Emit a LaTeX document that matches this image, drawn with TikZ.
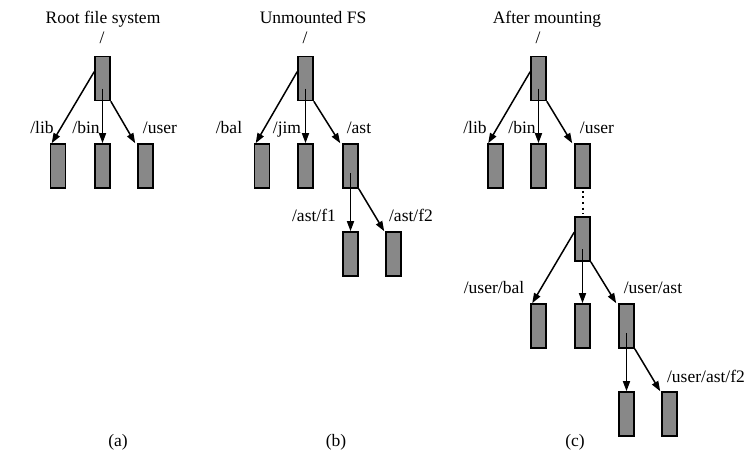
\documentclass[tikz,border=0pt]{standalone}
\usepackage{fontspec}
\setmainfont{Liberation Serif}
\usetikzlibrary{arrows.meta,calc}
\definecolor{boxgray}{RGB}{136,136,136}
\begin{document}
\begin{tikzpicture}[x=1pt,y=-1pt,
  fbox/.style={draw, line width=1.6pt, fill=boxgray, minimum width=15pt, minimum height=44pt, inner sep=0pt},
  lbl/.style={font=\fontsize{17.5}{19}\selectfont, anchor=base, inner sep=0pt},
  conn/.style={line width=1.5pt, -{Triangle[length=10pt,width=7pt]}},
  dotline/.style={line width=2pt, dash pattern=on 2pt off 3.6pt}]
\useasboundingbox (0,0) rectangle (748,456);

% ---------- (a) ----------
\node[lbl] (ta) at (103,23) {Root file system};
\node[lbl] (sa) at (102,43) {/};
\node[fbox] (ar) at (102.5,78.5) {};
\node[fbox] (al) at (58,166) {};
\node[fbox] (ab) at (102.5,166) {};
\node[fbox] (au) at (145.5,166) {};
\node[lbl] (lal) at (42,133) {/lib};
\node[lbl] (lab) at (86,133) {/bin};
\node[lbl] (lau) at (160,133) {/user};
\draw[conn] ($(ar.north west)+(0,16)$) -- ($(al.north west)+(2,0)$);
\draw[conn] ($(ar.center)+(0,10)$) -- (ab.north);
\draw[conn] (ar.south east) -- ($(au.north west)+(-2,0)$);
\node[lbl] (capa) at (118,446) {(a)};

% ---------- (b) ----------
\node[lbl] (tb) at (313,23) {Unmounted FS};
\node[lbl] (sb) at (305,43) {/};
\node[fbox] (br) at (305.5,78.5) {};
\node[fbox] (bb) at (262,166) {};
\node[fbox] (bj) at (305.5,166) {};
\node[fbox] (ba) at (350.5,166) {};
\node[fbox] (bf1) at (350.5,254) {};
\node[fbox] (bf2) at (393.5,254) {};
\node[lbl] (lbb) at (229,133) {/bal};
\node[lbl] (lbj) at (287,133) {/jim};
\node[lbl] (lba) at (359,133) {/ast};
\node[lbl] (lbf1) at (314,221) {/ast/f1};
\node[lbl] (lbf2) at (411,221) {/ast/f2};
\draw[conn] ($(br.north west)+(0,16)$) -- ($(bb.north west)+(2,0)$);
\draw[conn] ($(br.center)+(0,10)$) -- (bj.north);
\draw[conn] (br.south east) -- ($(ba.north west)+(-2,0)$);
\draw[conn] ($(ba.center)+(0,7)$) -- (bf1.north);
\draw[conn] (ba.south east) -- ($(bf2.north west)+(-1,0)$);
\node[lbl] (capb) at (336,446) {(b)};

% ---------- (c) ----------
\node[lbl] (tc) at (547,23) {After mounting};
\node[lbl] (sc) at (538,43) {/};
\node[fbox] (cr) at (538.5,78.5) {};
\node[fbox] (cl) at (495.5,166) {};
\node[fbox] (cb) at (538.5,166) {};
\node[fbox] (cu) at (582.5,166) {};
\node[fbox] (cm) at (582.5,239) {};
\node[fbox] (cmb) at (538.5,326) {};
\node[fbox] (cmj) at (582.5,326) {};
\node[fbox] (cma) at (626.5,326) {};
\node[fbox] (cf1) at (626.5,414) {};
\node[fbox] (cf2) at (669.5,414) {};
\node[lbl] (lcl) at (475,133) {/lib};
\node[lbl] (lcb) at (522,133) {/bin};
\node[lbl] (lcu) at (597,133) {/user};
\node[lbl] (lcmb) at (494,293) {/user/bal};
\node[lbl] (lcma) at (653,293) {/user/ast};
\node[lbl] (lcf2) at (706,382) {/user/ast/f2};
\draw[conn] ($(cr.north west)+(0,16)$) -- ($(cl.north west)+(1,0)$);
\draw[conn] ($(cr.center)+(0,10)$) -- (cb.north);
\draw[conn] (cr.south east) -- ($(cu.north west)+(-2,0)$);
\draw[dotline] ($(cu.south)+(0,2)$) -- ($(cm.north)+(0,-2)$);
\draw[conn] ($(cm.north west)+(0,16)$) -- ($(cmb.north west)+(2,0)$);
\draw[conn] ($(cm.center)+(0,10)$) -- (cmj.north);
\draw[conn] (cm.south east) -- ($(cma.north west)+(-2,0)$);
\draw[conn] ($(cma.center)+(0,7)$) -- (cf1.north);
\draw[conn] (cma.south east) -- ($(cf2.north west)+(-1,0)$);
\node[lbl] (capc) at (575,446) {(c)};
\end{tikzpicture}
\end{document}
